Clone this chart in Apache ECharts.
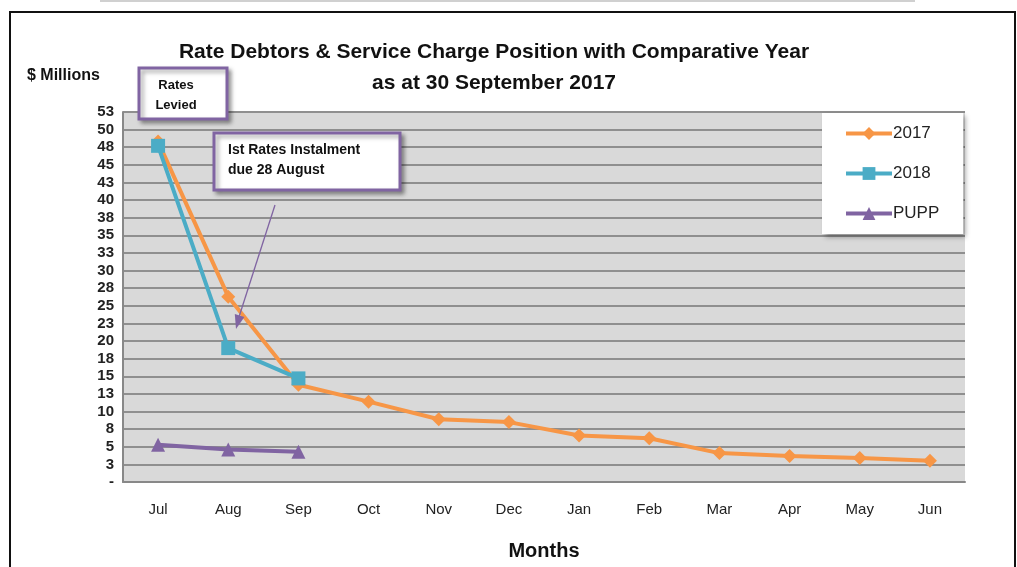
<!DOCTYPE html>
<html>
<head>
<meta charset="utf-8">
<script src="https://cdn.jsdelivr.net/npm/echarts@6/dist/echarts.min.js"></script>
<style>
  html, body { margin: 0; padding: 0; background: #fff; }
  #chart { width: 1017px; height: 567px; }
</style>
</head>
<body>
<div id="chart"></div>
<script>
var months = ['Jul', 'Aug', 'Sep', 'Oct', 'Nov', 'Dec', 'Jan', 'Feb', 'Mar', 'Apr', 'May', 'Jun'];
var debt2017 = [48.3, 26.3, 13.8, 11.4, 8.9, 8.5, 6.6, 6.2, 4.1, 3.7, 3.4, 3.0];
var debt2018 = [47.7, 19.0, 14.7];
var pupp = [5.3, 4.6, 4.3];
var yTickLabels = ['-', '3', '5', '8', '10', '13', '15', '18', '20', '23', '25', '28',
  '30', '33', '35', '38', '40', '43', '45', '48', '50', '53'];

var font = '"Liberation Sans", Arial, sans-serif';
var chart = echarts.init(document.getElementById('chart'));

var shadow = {
  shadowBlur: 4,
  shadowOffsetX: 3,
  shadowOffsetY: 3,
  shadowColor: 'rgba(0,0,0,0.35)'
};

var option = {
  animation: false,
  textStyle: { fontFamily: font },
  grid: {
    left: 123,
    right: 52,
    top: 112,
    bottom: 85,
    outerBoundsMode: 'none',
    containLabel: false,
    show: true,
    backgroundColor: '#d9d9d9',
    borderWidth: 0
  },
  legend: {
    orient: 'vertical',
    left: 822,
    top: 113,
    padding: [12, 24, 12, 22],
    itemGap: 23,
    itemWidth: 46,
    itemHeight: 16,
    backgroundColor: '#fff',
    shadowBlur: 5,
    shadowOffsetX: 3,
    shadowOffsetY: 3,
    shadowColor: 'rgba(0,0,0,0.35)',
    lineStyle: { width: 4 },
    textStyle: { fontSize: 17, color: '#222', fontFamily: font, padding: [0, 0, 0, -4] },
    data: ['2017', '2018', 'PUPP']
  },
  xAxis: {
    type: 'category',
    data: months,
    boundaryGap: true,
    name: 'Months',
    nameLocation: 'middle',
    nameGap: 59,
    nameTextStyle: { fontSize: 20, fontWeight: 'bold', color: '#111', fontFamily: font },
    axisLine: { lineStyle: { color: '#888', width: 2 } },
    axisTick: { show: false },
    axisLabel: { fontSize: 15, color: '#222', margin: 20 }
  },
  yAxis: {
    type: 'value',
    min: 0,
    max: 52.5,
    interval: 2.5,
    axisLine: { show: true, lineStyle: { color: '#888', width: 2 } },
    axisTick: { show: false },
    splitLine: { lineStyle: { color: '#8f8f8f', width: 2 } },
    axisLabel: {
      fontSize: 15,
      fontWeight: 'bold',
      color: '#222',
      margin: 9,
      formatter: function (v) { return yTickLabels[Math.round(v / 2.5)]; }
    }
  },
  series: [
    {
      name: '2017',
      type: 'line',
      data: debt2017,
      symbol: 'diamond',
      symbolSize: 14,
      lineStyle: { width: 4, color: '#f79646' },
      itemStyle: { color: '#f79646' },
      z: 3
    },
    {
      name: '2018',
      type: 'line',
      data: debt2018,
      symbol: 'rect',
      symbolSize: 14,
      lineStyle: { width: 4, color: '#4bacc6' },
      itemStyle: { color: '#4bacc6' },
      z: 4
    },
    {
      name: 'PUPP',
      type: 'line',
      data: pupp,
      symbol: 'triangle',
      symbolSize: 14,
      lineStyle: { width: 4, color: '#8064a2' },
      itemStyle: { color: '#8064a2' },
      z: 3
    }
  ],
  graphic: [
    // frame of the picture
    { type: 'rect', shape: { x: 100, y: 0, width: 815, height: 2 }, style: { fill: '#d0d0d0' } },
    { type: 'rect', shape: { x: 10, y: 12, width: 1005, height: 570 }, style: { fill: 'none', stroke: '#111', lineWidth: 2 }, z: -1 },
    // title
    {
      type: 'text',
      style: {
        x: 494, y: 52, text: 'Rate Debtors & Service Charge Position with Comparative Year',
        font: 'bold 21px ' + font, fill: '#111', align: 'center', verticalAlign: 'middle'
      }
    },
    {
      type: 'text',
      style: {
        x: 494, y: 83, text: 'as at 30 September 2017',
        font: 'bold 21px ' + font, fill: '#111', align: 'center', verticalAlign: 'middle'
      }
    },
    {
      type: 'text',
      style: {
        x: 27, y: 76, text: '$ Millions',
        font: 'bold 16px ' + font, fill: '#111', align: 'left', verticalAlign: 'middle'
      }
    },
    // Rates Levied box
    {
      type: 'rect', z: 10,
      shape: { x: 139, y: 68, width: 88, height: 51 },
      style: Object.assign({ fill: '#fff', stroke: '#8064a2', lineWidth: 3 }, shadow)
    },
    {
      type: 'text', z: 11,
      style: {
        x: 176, y: 95, text: 'Rates\nLevied', lineHeight: 20,
        font: 'bold 13px ' + font, fill: '#111', align: 'center', verticalAlign: 'middle'
      }
    },
    // instalment box
    {
      type: 'rect', z: 10,
      shape: { x: 214, y: 133, width: 186, height: 57 },
      style: Object.assign({ fill: '#fff', stroke: '#8064a2', lineWidth: 3 }, shadow)
    },
    {
      type: 'text', z: 11,
      style: {
        x: 228, y: 160, text: 'Ist Rates Instalment\ndue 28 August', lineHeight: 20,
        font: 'bold 14px ' + font, fill: '#111', align: 'left', verticalAlign: 'middle'
      }
    },
    // arrow
    {
      type: 'line', z: 10,
      shape: { x1: 275, y1: 205, x2: 238, y2: 320 },
      style: { stroke: '#8064a2', lineWidth: 1.3 }
    },
    {
      type: 'polygon', z: 10,
      shape: { points: [[236, 329], [244.4, 317.1], [234.8, 314.1]] },
      style: { fill: '#8064a2' }
    }
  ]
};

chart.setOption(option);
</script>
</body>
</html>
